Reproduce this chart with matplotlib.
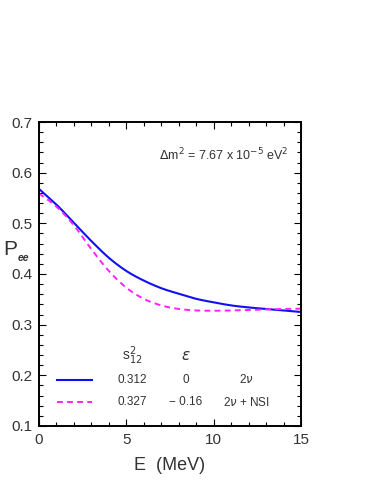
import numpy as np
import matplotlib
matplotlib.use("Agg")
import matplotlib.pyplot as plt
from matplotlib.ticker import MultipleLocator

# ── Data ──────────────────────────────────────────────────────────────────────
energy = [0, 1, 2, 3, 4, 5, 6, 7, 8, 9, 10, 11, 12, 13, 14, 15]
pee_2nu = [0.568, 0.537, 0.501, 0.465, 0.432, 0.406, 0.387, 0.372,
           0.361, 0.351, 0.344, 0.338, 0.334, 0.331, 0.328, 0.325]
pee_nsi = [0.559, 0.533, 0.496, 0.449, 0.406, 0.373, 0.351, 0.338,
           0.331, 0.328, 0.3275, 0.328, 0.329, 0.3302, 0.331, 0.3315]

leg_s12 = ["0.312", "0.327"]
leg_eps = ["0", "\u2212 0.16"]
leg_model = ["2$\\nu$", "2$\\nu$ + NSI"]

BLUE = "#1010f0"
MAGENTA = "#ff22ff"
TXT = "#333333"

plt.rcParams["font.family"] = ["Liberation Sans", "DejaVu Sans"]
plt.rcParams["mathtext.fontset"] = "dejavusans"

fig = plt.figure(figsize=(3.82, 4.94), dpi=100)
ax = fig.add_axes([0.102, 0.1377, 0.686, 0.6153])


# cubic Hermite through the read-off points, for a smooth curve
def hermite(x, y, xs):
    x = np.asarray(x, float)
    y = np.asarray(y, float)
    m = np.gradient(y, x)
    idx = np.clip(np.searchsorted(x, xs) - 1, 0, len(x) - 2)
    h = x[idx + 1] - x[idx]
    t = (xs - x[idx]) / h
    h00 = 2*t**3 - 3*t**2 + 1
    h10 = t**3 - 2*t**2 + t
    h01 = -2*t**3 + 3*t**2
    h11 = t**3 - t**2
    return h00*y[idx] + h10*h*m[idx] + h01*y[idx+1] + h11*h*m[idx+1]


e_fine = np.linspace(0, 15, 300)
ax.plot(e_fine, hermite(energy, pee_2nu, e_fine), color=BLUE, lw=1.5)
ax.plot(e_fine, hermite(energy, pee_nsi, e_fine), color=MAGENTA, lw=1.4,
        dashes=(3, 2.2))

ax.set_xlim(0, 15)
ax.set_ylim(0.1, 0.7)
ax.xaxis.set_major_locator(MultipleLocator(5))
ax.xaxis.set_minor_locator(MultipleLocator(1))
ax.yaxis.set_major_locator(MultipleLocator(0.1))
ax.yaxis.set_minor_locator(MultipleLocator(0.02))
ax.yaxis.set_major_formatter(plt.FuncFormatter(lambda v, p: f"{v:.1f}"))
ax.tick_params(which="both", direction="in", top=True, right=True,
               labelsize=11, labelcolor=TXT, width=0.8)
ax.tick_params(which="major", length=5, pad=5)
ax.tick_params(which="minor", length=3)
for s in ax.spines.values():
    s.set_linewidth(1.4)

ax.set_xlabel("E  (MeV)", fontsize=13, color=TXT, labelpad=7)
fig.text(0.008, 0.494, "P", fontsize=15, color=TXT, va="center")
fig.text(0.046, 0.478, "ee", fontsize=7.5, fontweight="bold", style="italic",
         color=TXT, va="center")

ax.text(14.3, 0.635, "$\\Delta$m$^2$ = 7.67 x 10$^{-5}$ eV$^2$",
        fontsize=9, ha="right", va="center", color=TXT)

# legend table
ax.text(5.32, 0.238, "s$^2_{12}$", fontsize=10, ha="center", va="center",
        color=TXT)
ax.text(8.4, 0.238, "$\\varepsilon$", fontsize=11, ha="center", va="center",
        color=TXT)
rows_y = [0.191, 0.147]
styles = [dict(color=BLUE, lw=1.5), dict(color=MAGENTA, lw=1.4, dashes=(3, 2.2))]
for i in range(2):
    ax.plot([1.03, 3.03], [rows_y[i]] * 2, **styles[i])
    ax.text(5.32, rows_y[i], leg_s12[i], fontsize=8.5, ha="center",
            va="center", color=TXT)
    ax.text(8.4, rows_y[i], leg_eps[i], fontsize=8.5, ha="center",
            va="center", color=TXT)
    ax.text(11.9, rows_y[i], leg_model[i], fontsize=8.5, ha="center",
            va="center", color=TXT)

fig.savefig("out.png", dpi=100)
